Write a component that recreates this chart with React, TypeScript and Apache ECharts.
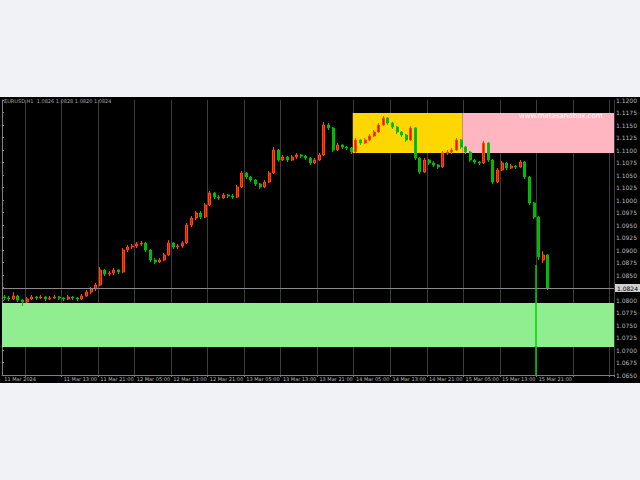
import React, { useEffect, useRef } from "react";
import * as echarts from "echarts";

// ---- data ----
const categoryCount = 134;

const opens = [
  1.0806, 1.0804, 1.0802, 1.0808, 1.08, 1.0796, 1.0802, 1.0806, 1.0804, 1.0806,
  1.0802, 1.0804, 1.0806, 1.0804, 1.0802, 1.0806, 1.0804, 1.0802, 1.0808, 1.0816,
  1.0822, 1.083, 1.086, 1.0852, 1.0854, 1.086, 1.0856, 1.09, 1.0906, 1.0908,
  1.0912, 1.0914, 1.09, 1.088, 1.0876, 1.088, 1.089, 1.0914, 1.0906, 1.0908,
  1.0914, 1.095, 1.0964, 1.0974, 1.0966, 1.099, 1.1014, 1.1006, 1.1004, 1.101,
  1.1008, 1.1006, 1.1026, 1.1054, 1.1046, 1.104, 1.1032, 1.1026, 1.1036, 1.1054,
  1.11, 1.108, 1.1086, 1.108, 1.1086, 1.109, 1.1088, 1.1084, 1.1074, 1.108,
  1.109, 1.115, 1.1144, 1.11, 1.111, 1.1106, 1.1104, 1.1096, 1.112, 1.1114,
  1.112, 1.1128, 1.1136, 1.115, 1.1164, 1.1154, 1.1146, 1.1136, 1.113, 1.112,
  1.1144, 1.1084, 1.1056, 1.108, 1.1074, 1.107, 1.1066, 1.1094, 1.1096, 1.11,
  1.112, 1.1106, 1.1096, 1.108, 1.1076, 1.1074, 1.1114, 1.108, 1.1036, 1.106,
  1.1074, 1.1064, 1.1068, 1.1066, 1.1076, 1.1046, 1.0994, 1.0966, 1.088, 1.089,
];
const closes = [
  1.0804, 1.0802, 1.0808, 1.08, 1.0796, 1.0802, 1.0806, 1.0804, 1.0806, 1.0802,
  1.0804, 1.0806, 1.0804, 1.0802, 1.0806, 1.0804, 1.0802, 1.0808, 1.0816, 1.0822,
  1.083, 1.086, 1.0852, 1.0854, 1.086, 1.0856, 1.09, 1.0906, 1.0908, 1.0912,
  1.0914, 1.09, 1.088, 1.0876, 1.088, 1.089, 1.0914, 1.0906, 1.0908, 1.0914,
  1.095, 1.0964, 1.0974, 1.0966, 1.099, 1.1014, 1.1006, 1.1004, 1.101, 1.1008,
  1.1006, 1.1026, 1.1054, 1.1046, 1.104, 1.1032, 1.1026, 1.1036, 1.1054, 1.11,
  1.108, 1.1086, 1.108, 1.1086, 1.109, 1.1088, 1.1084, 1.1074, 1.108, 1.109,
  1.115, 1.1144, 1.11, 1.111, 1.1106, 1.1104, 1.1096, 1.112, 1.1114, 1.112,
  1.1128, 1.1136, 1.115, 1.1164, 1.1154, 1.1146, 1.1136, 1.113, 1.112, 1.1144,
  1.1084, 1.1056, 1.108, 1.1074, 1.107, 1.1066, 1.1094, 1.1096, 1.11, 1.112,
  1.1106, 1.1096, 1.108, 1.1076, 1.1074, 1.1114, 1.108, 1.1036, 1.106, 1.1074,
  1.1064, 1.1068, 1.1066, 1.1076, 1.1046, 1.0994, 1.0966, 1.0886, 1.089, 1.0824,
];
const lows = [
  1.08, 1.0798, 1.08, 1.0796, 1.0788, 1.0794, 1.08, 1.08, 1.0802, 1.0798,
  1.08, 1.0802, 1.08, 1.0798, 1.08, 1.08, 1.0798, 1.08, 1.0806, 1.0812,
  1.0818, 1.0828, 1.0848, 1.0848, 1.085, 1.0852, 1.0854, 1.0896, 1.0902, 1.0904,
  1.0908, 1.0896, 1.0876, 1.0872, 1.0874, 1.0878, 1.0888, 1.0902, 1.0902, 1.0904,
  1.0912, 1.0946, 1.096, 1.0962, 1.0964, 1.0988, 1.1002, 1.1, 1.1002, 1.1004,
  1.1002, 1.1004, 1.1024, 1.1042, 1.1036, 1.1028, 1.1022, 1.1024, 1.1034, 1.1052,
  1.1076, 1.1078, 1.1076, 1.1078, 1.1082, 1.1084, 1.108, 1.107, 1.1072, 1.1078,
  1.1088, 1.114, 1.1096, 1.1098, 1.1102, 1.11, 1.1092, 1.1094, 1.111, 1.1112,
  1.1118, 1.1126, 1.1134, 1.1148, 1.115, 1.1142, 1.1132, 1.1126, 1.1116, 1.1118,
  1.108, 1.1052, 1.1054, 1.107, 1.1066, 1.1062, 1.1064, 1.109, 1.1092, 1.1098,
  1.1102, 1.1092, 1.1076, 1.1072, 1.107, 1.1072, 1.1076, 1.1032, 1.1034, 1.1058,
  1.106, 1.1062, 1.1062, 1.1064, 1.1042, 1.099, 1.0962, 1.088, 1.0874, 1.082,
];
const highs = [
  1.081, 1.0808, 1.0816, 1.081, 1.0802, 1.0806, 1.081, 1.0808, 1.081, 1.0808,
  1.0808, 1.081, 1.0808, 1.0806, 1.081, 1.0808, 1.0806, 1.0812, 1.082, 1.0826,
  1.0834, 1.0866, 1.0862, 1.0858, 1.0864, 1.0862, 1.0904, 1.091, 1.0912, 1.0916,
  1.0918, 1.0916, 1.0902, 1.0884, 1.0884, 1.0894, 1.092, 1.0916, 1.0912, 1.0918,
  1.0954, 1.0968, 1.0978, 1.0978, 1.0994, 1.1018, 1.1016, 1.101, 1.1014, 1.1012,
  1.1012, 1.103, 1.1058, 1.1056, 1.1048, 1.1042, 1.1034, 1.104, 1.1058, 1.1106,
  1.1102, 1.109, 1.1088, 1.109, 1.1094, 1.1092, 1.109, 1.1086, 1.1084, 1.1094,
  1.1156, 1.1154, 1.1146, 1.1114, 1.1112, 1.1108, 1.1106, 1.1124, 1.1122, 1.1124,
  1.1132, 1.114, 1.1154, 1.1168, 1.1166, 1.1156, 1.1148, 1.1138, 1.1132, 1.1148,
  1.1146, 1.1086, 1.1084, 1.1082, 1.1078, 1.1072, 1.1098, 1.11, 1.1104, 1.1124,
  1.1122, 1.1108, 1.1098, 1.1082, 1.1078, 1.1118, 1.1116, 1.1082, 1.1064, 1.1078,
  1.1076, 1.1072, 1.107, 1.108, 1.1078, 1.1048, 1.0996, 1.0968, 1.0898, 1.0892,
];

// time-axis tick labels (category index -> label)
const tickIndexes = [0, 13, 21, 29, 37, 45, 53, 61, 69, 77, 85, 93, 101, 109, 117];
const tickLabels = [
  "11 Mar 2024", "11 Mar 13:00", "11 Mar 21:00", "12 Mar 05:00", "12 Mar 13:00",
  "12 Mar 21:00", "13 Mar 05:00", "13 Mar 13:00", "13 Mar 21:00", "14 Mar 05:00",
  "14 Mar 13:00", "14 Mar 21:00", "15 Mar 05:00", "15 Mar 13:00", "15 Mar 21:00",
];

// rectangle zones (x in bar slots, y in price)
const zoneStart = [76.8, 100.8, 0];
const zoneEnd = [100.8, 134, 134];
const zoneTop = [1.1174, 1.1174, 1.0794];
const zoneBottom = [1.1094, 1.1094, 1.0706];

const bidPrice = 1.0824;
const markerSlot = 116.8;
const markerTop = 1.087;
const priceMin = 1.065;
const priceMax = 1.12;
const priceStep = 0.0025;
const symbolTitle = "EURUSD,H1  1.0826 1.0828 1.0820 1.0824";
const watermark = "www.metasandbox.com";

const zoneColors = ["#FFD700", "#FFB6C1", "#90EE90"];

export default function App() {
  const ref = useRef<HTMLDivElement>(null);
  useEffect(() => {
    if (!ref.current) return;
    const chart = echarts.init(ref.current, null, { renderer: "svg" });
    const categories = Array.from({ length: categoryCount }, (_, i) => String(i));
    const candles = opens.map((o, i) => [o, closes[i], lows[i], highs[i]]);
    const labelMap: Record<number, string> = {};
    tickIndexes.forEach((idx, k) => (labelMap[idx] = tickLabels[k]));
    const gridFn = (i: number) => i >= 5 && (i - 5) % 8 === 0;
    const labelFn = (i: number) => labelMap[i] !== undefined;

    const areas = zoneStart.map((s, k) => [
      { xAxis: s, yAxis: zoneTop[k], itemStyle: { color: zoneColors[k], opacity: 1 } },
      { xAxis: zoneEnd[k], yAxis: zoneBottom[k] },
    ]);

    chart.setOption({
      animation: false,
      backgroundColor: "#000000",
      textStyle: { fontFamily: "DejaVu Sans" },
      grid: { left: 2, right: 22, top: 3, bottom: 8 },
      graphic: [
        {
          type: "text",
          left: 4,
          top: 1,
          z: 10,
          style: { text: symbolTitle, fill: "#a8a8a8", fontSize: 5, fontFamily: "DejaVu Sans" },
        },
        {
          type: "text",
          left: 519,
          top: 15,
          z: 10,
          style: { text: watermark, fill: "rgba(255,255,255,0.9)", fontSize: 7, fontFamily: "DejaVu Sans" },
        },
      ],
      xAxis: [
        {
          type: "category",
          data: categories,
          boundaryGap: true,
          axisLine: { show: true, lineStyle: { color: "#808080" } },
          axisTick: { show: true, interval: gridFn, length: 2, lineStyle: { color: "#808080" } },
          axisLabel: {
            interval: labelFn,
            formatter: (_v: string, i: number) => labelMap[i] ?? "",
            fontSize: 5,
            color: "#b8b8b8",
            margin: 1,
            align: "left",
          },
          splitLine: { show: true, interval: gridFn, lineStyle: { color: "#3c3c3c", width: 1 } },
        },
        { type: "value", min: 0, max: categoryCount, show: false },
      ],
      yAxis: {
        type: "value",
        position: "right",
        min: priceMin,
        max: priceMax,
        interval: priceStep,
        axisLine: { show: true, lineStyle: { color: "#808080" } },
        axisTick: { show: true, length: 2, lineStyle: { color: "#808080" } },
        axisLabel: { fontSize: 6, color: "#b8b8b8", margin: 2, formatter: (v: number) => v.toFixed(4) },
        splitLine: { show: false },
      },
      series: [
        {
          type: "line",
          xAxisIndex: 1,
          data: [],
          z: 1,
          silent: true,
          markArea: { silent: true, data: areas },
        },
        {
          type: "line",
          xAxisIndex: 1,
          data: [],
          z: 4,
          silent: true,
          markLine: {
            silent: true,
            precision: 4,
            symbol: ["none", "none"],
            data: [
              {
                yAxis: bidPrice,
                lineStyle: { color: "#8a8a8a", width: 1, type: "solid" },
                label: {
                  show: true,
                  position: "end",
                  formatter: bidPrice.toFixed(4),
                  backgroundColor: "#d0d0d0",
                  color: "#000",
                  fontSize: 6,
                  padding: [1, 2],
                  distance: 1,
                },
              },
              [
                {
                  coord: [markerSlot, markerTop],
                  lineStyle: { color: "#00d000", width: 1.5, type: "solid" },
                  label: { show: false },
                },
                { coord: [markerSlot, priceMin] },
              ],
            ],
          },
        },
        {
          type: "candlestick",
          xAxisIndex: 0,
          data: candles,
          barWidth: 2.5,
          z: 3,
          itemStyle: {
            color: "#e81000",
            color0: "#00b400",
            borderColor: "#ff4a00",
            borderColor0: "#00c000",
            borderWidth: 1,
          },
        },
      ],
    });
    return () => chart.dispose();
  }, []);

  return (
    <div style={{ position: "fixed", left: 0, top: 0, width: 640, height: 480, background: "#f0f2f5" }}>
      <div ref={ref} style={{ position: "absolute", left: 0, top: 97, width: 640, height: 286, background: "#000" }} />
    </div>
  );
}
